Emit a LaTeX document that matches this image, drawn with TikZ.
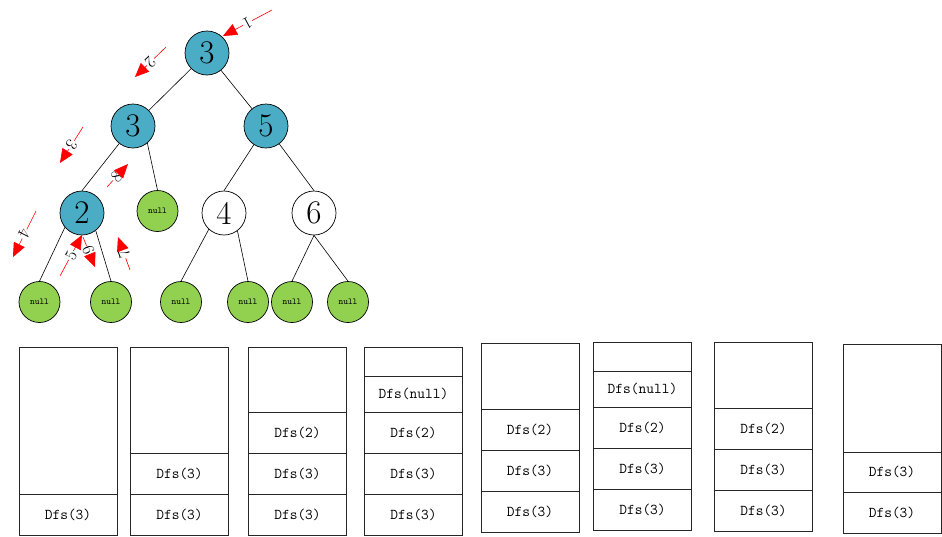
\documentclass[tikz,border=0pt]{standalone}
\usepackage{fontspec}
\usetikzlibrary{arrows.meta,calc}
\definecolor{tealblue}{RGB}{75,172,198}
\definecolor{leafgreen}{RGB}{146,208,80}
\begin{document}
\begin{tikzpicture}[x=1pt,y=-1pt,
  tnode/.style={circle, draw=black, line width=0.7pt, minimum size=44pt, inner sep=0pt, font=\fontsize{33}{33}\selectfont},
  bluenode/.style={tnode, fill=tealblue},
  whitenode/.style={tnode, fill=white},
  nullnode/.style={circle, draw=black, line width=0.7pt, fill=leafgreen, minimum size=41pt, inner sep=0pt, font=\ttfamily\fontsize{9}{9}\selectfont},
  treeedge/.style={draw=black, line width=0.6pt},
  redline/.style={draw=red, line width=0.6pt},
  redarrow/.style={redline, -{Triangle[length=14pt,width=12pt]}},
  albl/.style={inner sep=1pt, font=\fontsize{17}{17}\selectfont},
  cell/.style={draw=black!85, line width=0.8pt, inner sep=0pt, minimum width=98pt, font=\ttfamily\fontsize{15}{15}\selectfont},
]
\useasboundingbox (0,0) rectangle (942,536);

% tree
\node[bluenode] (r) at (207,53) {3};
\node[bluenode] (l3) at (133,126) {3};
\node[bluenode] (n5) at (266,126) {5};
\node[bluenode] (n2) at (82,213) {2};
\node[nullnode] (nA) at (157.5,211) {null};
\node[whitenode] (n4) at (224,213) {4};
\node[whitenode] (n6) at (314,213) {6};
\node[nullnode] (lA) at (39.5,302) {null};
\node[nullnode] (lB) at (111,302) {null};
\node[nullnode] (lC) at (181,302) {null};
\node[nullnode] (lD) at (248,302) {null};
\node[nullnode] (lE) at (292,302) {null};
\node[nullnode] (lF) at (348,302) {null};

\draw[treeedge] (r) -- (l3);
\draw[treeedge] (r) -- (n5);
\draw[treeedge] (l3) -- (n2.north);
\draw[treeedge] (l3.-50) -- (nA.north);
\draw[treeedge] (n5) -- (n4.north);
\draw[treeedge] (n5) -- (n6.north);
\draw[treeedge] (n2.220) -- (lA.north);
\draw[treeedge] (n2.-52) -- (lB.north);
\draw[treeedge] (n4.227) -- (lC.north);
\draw[treeedge] (n4.-53) -- (lD.north);
\draw[treeedge] (n6.south) -- (lE.north);
\draw[treeedge] (n6.south) -- (lF.north);

% red numbered arrows
\coordinate (a1s) at (272,10);  \coordinate (a1e) at (223,36);
\coordinate (a2s) at (166,47);  \coordinate (a2e) at (135,77);
\coordinate (a3s) at (83,127);  \coordinate (a3e) at (60,163);
\coordinate (a4s) at (36,211);  \coordinate (a4e) at (13,257);
\coordinate (a5s) at (60,276);  \coordinate (a5e) at (82,235);
\coordinate (a6s) at (83,237);  \coordinate (a6e) at (95,267);
\coordinate (a7s) at (130,270); \coordinate (a7e) at (118,237);
\coordinate (a8s) at (107,187); \coordinate (a8e) at (128,164);

\node[albl, rotate=208] (t1) at ($(a1s)!0.5!(a1e)$) {1};
\node[albl, rotate=224] (t2) at ($(a2s)!0.5!(a2e)$) {2};
\node[albl, rotate=237] (t3) at ($(a3s)!0.5!(a3e)$) {3};
\node[albl, rotate=243] (t4) at ($(a4s)!0.5!(a4e)$) {4};
\node[albl, rotate=62]  (t5) at ($(a5s)!0.5!(a5e)$) {5};
\node[albl, rotate=292] (t6) at ($(a6s)!0.45!(a6e)$) {6};
\node[albl, rotate=110] (t7) at ($(a7s)!0.5!(a7e)$) {7};
\node[albl, rotate=48]  (t8) at ($(a8s)!0.45!(a8e)$) {8};

\foreach \i in {1,...,8}{
  \draw[redline] (a\i s) -- (t\i);
  \draw[redarrow] (t\i) -- (a\i e);
}

% stacks
% stack 1
\node[cell, minimum height=147pt] (s1e) at (68,420.5) {};
\node[cell, minimum height=41pt] (s1a) at (68,514.5) {Dfs(3)};
% stack 2
\node[cell, minimum height=106pt] (s2e) at (179.5,400) {};
\node[cell, minimum height=41pt] (s2b) at (179.5,473.5) {Dfs(3)};
\node[cell, minimum height=41pt] (s2a) at (179.5,514.5) {Dfs(3)};
% stack 3
\node[cell, minimum height=65pt] (s3e) at (297.5,379.5) {};
\node[cell, minimum height=41pt] (s3c) at (297.5,432.5) {Dfs(2)};
\node[cell, minimum height=41pt] (s3b) at (297.5,473.5) {Dfs(3)};
\node[cell, minimum height=41pt] (s3a) at (297.5,514.5) {Dfs(3)};
% stack 4
\node[cell, minimum height=29pt] (s4e) at (413.5,361.5) {};
\node[cell, minimum height=36pt] (s4d) at (413.5,394) {Dfs(null)};
\node[cell, minimum height=41pt] (s4c) at (413.5,432.5) {Dfs(2)};
\node[cell, minimum height=41pt] (s4b) at (413.5,473.5) {Dfs(3)};
\node[cell, minimum height=41pt] (s4a) at (413.5,514.5) {Dfs(3)};
% stack 5
\node[cell, minimum height=66pt] (s5e) at (530,376) {};
\node[cell, minimum height=41pt] (s5c) at (530,429.5) {Dfs(2)};
\node[cell, minimum height=41pt] (s5b) at (530,470.5) {Dfs(3)};
\node[cell, minimum height=41pt] (s5a) at (530,511.5) {Dfs(3)};
% stack 6
\node[cell, minimum height=29pt] (s6e) at (642.5,356.5) {};
\node[cell, minimum height=36pt] (s6d) at (642.5,389) {Dfs(null)};
\node[cell, minimum height=41pt] (s6c) at (642.5,427.5) {Dfs(2)};
\node[cell, minimum height=41pt] (s6b) at (642.5,468.5) {Dfs(3)};
\node[cell, minimum height=41pt] (s6a) at (642.5,509.5) {Dfs(3)};
% stack 7
\node[cell, minimum height=66pt] (s7e) at (763.5,375) {};
\node[cell, minimum height=41pt] (s7c) at (763.5,428.5) {Dfs(2)};
\node[cell, minimum height=41pt] (s7b) at (763.5,469.5) {Dfs(3)};
\node[cell, minimum height=41pt] (s7a) at (763.5,510.5) {Dfs(3)};
% stack 8
\node[cell, minimum height=108pt] (s8e) at (892,398) {};
\node[cell, minimum height=40pt] (s8b) at (892,472) {Dfs(3)};
\node[cell, minimum height=41pt] (s8a) at (892,512.5) {Dfs(3)};
\end{tikzpicture}
\end{document}
